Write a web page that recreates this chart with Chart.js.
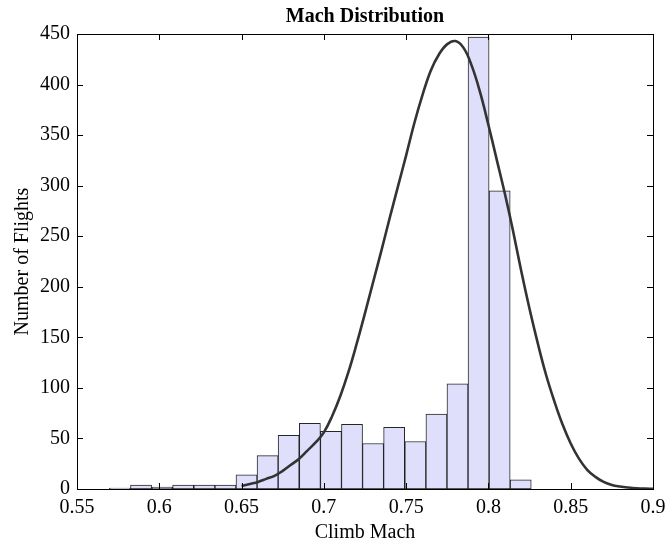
<!DOCTYPE html>
<html lang="en">
<head>
  <meta charset="UTF-8">
  <title>Mach Distribution</title>
  <script src="https://cdn.jsdelivr.net/npm/chart.js"></script>
  <style>
    html, body { margin: 0; padding: 0; background: #ffffff; }
    #wrap { width: 665px; height: 545px; }
  </style>
</head>
<body>
<div id="wrap"><canvas id="machChart" width="665" height="545"></canvas></div>

<script>
// histogram bins (left edges) and counts
const binStart = [0.5697, 0.5825, 0.5953, 0.6081, 0.6210, 0.6338, 0.6466, 0.6594, 0.6722, 0.6851,
                  0.6979, 0.7107, 0.7235, 0.7363, 0.7492, 0.7620, 0.7748, 0.7876, 0.8004, 0.8132];
const binCounts = [1, 4, 2, 4, 4, 4, 14, 33, 53, 65, 57, 64, 45, 61, 47, 74, 104, 447, 295, 9];
const binWidth = 0.01282;

// fitted normal curve
const fitMach = [0.650, 0.655, 0.660, 0.665, 0.670, 0.675, 0.680, 0.685, 0.690, 0.695,
                 0.700, 0.705, 0.710, 0.715, 0.720, 0.725, 0.730, 0.735, 0.740, 0.745,
                 0.750, 0.755, 0.760, 0.765, 0.770, 0.775, 0.780, 0.785, 0.790, 0.795,
                 0.800, 0.805, 0.810, 0.815, 0.820, 0.825, 0.830, 0.835, 0.840, 0.845,
                 0.850, 0.855, 0.860, 0.865, 0.870, 0.875, 0.880, 0.885, 0.890, 0.895, 0.900];
const fitCount = [3, 5, 7, 10, 13, 18, 24, 30, 38, 46,
                  56, 72, 92, 116, 144, 174, 205, 236, 268, 299,
                  330, 362, 390, 414, 430, 440, 443, 436, 418, 392,
                  360, 326, 292, 255, 215, 178, 144, 113, 87, 64,
                  45, 30, 19, 12, 7, 4, 2.5, 1.5, 0.8, 0.4, 0.2];

const xTicks = [0.55, 0.6, 0.65, 0.7, 0.75, 0.8, 0.85, 0.9];
const yTicks = [0, 50, 100, 150, 200, 250, 300, 350, 400, 450];

const serif = "'Liberation Serif', 'Times New Roman', serif";

// box round the plot with inward ticks on all four sides
const boxTicks = {
  id: 'boxTicks',
  afterDatasetsDraw(chart) {
    const { ctx, chartArea: a, scales: { x, y } } = chart;
    const len = 6;
    ctx.save();
    ctx.strokeStyle = '#000';
    ctx.lineWidth = 1;
    ctx.beginPath();
    xTicks.forEach(v => {
      const px = Math.round(x.getPixelForValue(v)) + 0.5;
      ctx.moveTo(px, a.bottom); ctx.lineTo(px, a.bottom - len);
      ctx.moveTo(px, a.top); ctx.lineTo(px, a.top + len);
    });
    yTicks.forEach(v => {
      const py = Math.round(y.getPixelForValue(v)) + 0.5;
      ctx.moveTo(a.left, py); ctx.lineTo(a.left + len, py);
      ctx.moveTo(a.right, py); ctx.lineTo(a.right - len, py);
    });
    ctx.stroke();
    ctx.strokeRect(Math.round(a.left) + 0.5, Math.round(a.top) + 0.5,
                   Math.round(a.right - a.left), Math.round(a.bottom - a.top));
    ctx.restore();
  }
};

new Chart(document.getElementById('machChart'), {
  type: 'bar',
  data: {
    datasets: [
      {
        type: 'line',
        label: 'Normal fit',
        data: fitMach.map((m, i) => ({ x: m, y: fitCount[i] })),
        borderColor: '#333333',
        borderWidth: 2.6,
        pointRadius: 0,
        tension: 0.4,
        order: 0
      },
      {
        type: 'bar',
        label: 'Flights',
        data: binStart.map((s, i) => ({ x: s + binWidth / 2, y: binCounts[i] })),
        backgroundColor: 'rgb(223,223,252)',
        borderColor: 'rgba(0,0,0,0.85)',
        borderWidth: 1,
        borderSkipped: false,
        barPercentage: 1,
        categoryPercentage: 1,
        order: 1
      }
    ]
  },
  options: {
    responsive: false,
    animation: false,
    layout: { padding: { left: 0, right: 12, top: 0, bottom: 0 } },
    plugins: {
      legend: { display: false },
      tooltip: { enabled: false },
      title: {
        display: true,
        fullSize: false,   // centre over the plot, not the canvas
        text: 'Mach Distribution',
        color: '#000',
        font: { family: serif, size: 20, weight: 'bold' },
        padding: { top: 5, bottom: 5 }
      }
    },
    scales: {
      x: {
        type: 'linear',
        min: 0.55,
        max: 0.9,
        offset: false,
        grid: { display: false, drawTicks: false },
        border: { display: false },
        afterBuildTicks: s => { s.ticks = xTicks.map(v => ({ value: v })); },
        afterFit: s => { s.height = 56; s.paddingLeft = 0; s.paddingRight = 0; },
        ticks: {
          color: '#000',
          padding: 7,
          maxRotation: 0,
          font: { family: serif, size: 20 },
          callback: v => String(v)
        },
        title: {
          display: true,
          text: 'Climb Mach',
          color: '#000',
          font: { family: serif, size: 20 },
          padding: { top: 0, bottom: 0 }
        }
      },
      y: {
        min: 0,
        max: 450,
        grid: { display: false, drawTicks: false },
        border: { display: false },
        afterBuildTicks: s => { s.ticks = yTicks.map(v => ({ value: v })); },
        afterFit: s => { s.width = 77; s.paddingTop = 0; s.paddingBottom = 0; },
        ticks: {
          color: '#000',
          padding: 7,
          font: { family: serif, size: 20 }
        },
        title: {
          display: true,
          text: 'Number of Flights',
          color: '#000',
          font: { family: serif, size: 20 },
          padding: { top: 11, bottom: 0 }
        }
      }
    }
  },
  plugins: [boxTicks]
});
</script>
</body>
</html>
